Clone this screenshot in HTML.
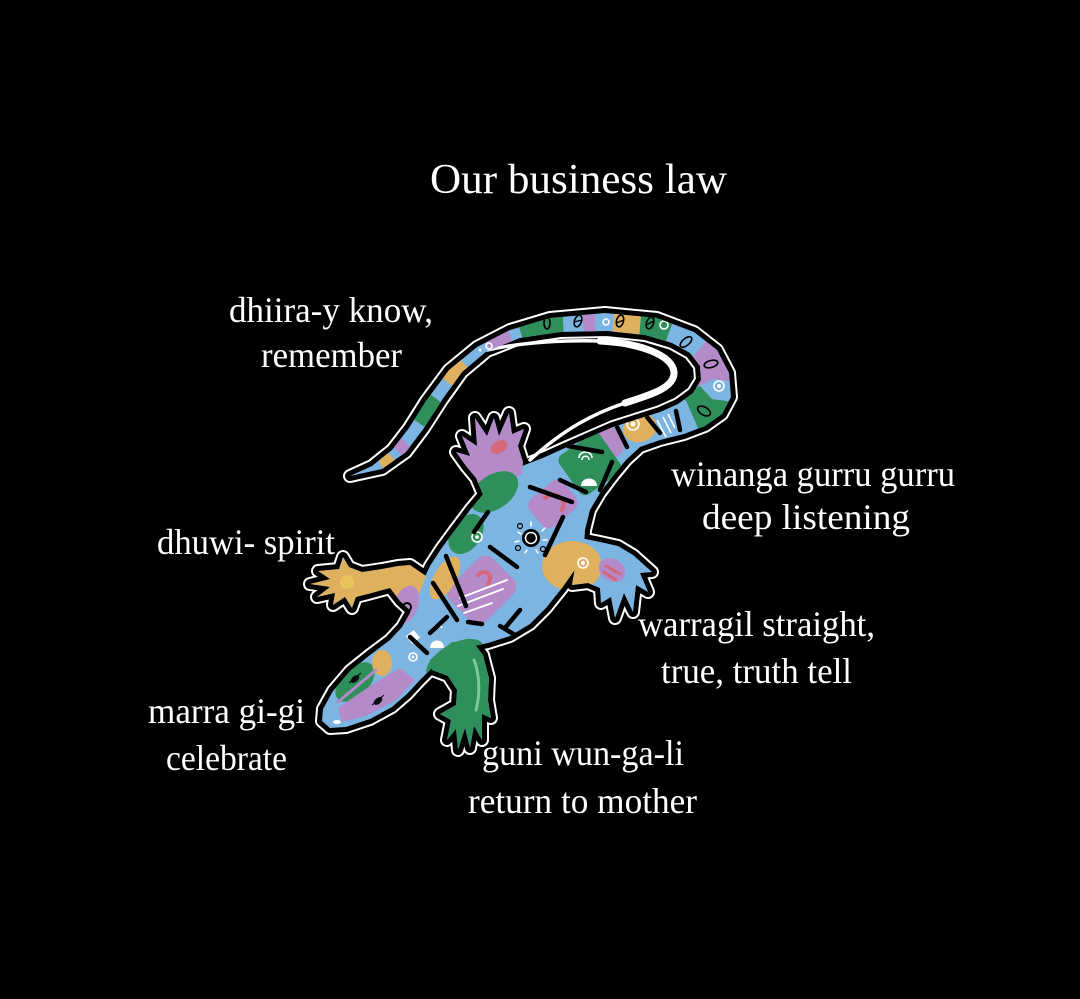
<!DOCTYPE html>
<html><head><meta charset="utf-8">
<style>
html,body{margin:0;padding:0;background:#000;}
svg{display:block;}
text{font-family:"Liberation Serif",serif;fill:#fff;}
</style></head>
<body>
<svg width="1080" height="999" viewBox="0 0 1080 999" xmlns="http://www.w3.org/2000/svg" xmlns:xlink="http://www.w3.org/1999/xlink">
<defs>
<path id="body" d="M350,476 L372,466 L392,450 L409,428 L426,401 L449,370 L477,347 L510,330 L550,318 L605,313 L657,318 L694,332 L717,350 L729,373 L731,397 L722,414 L705,426 L684,434 L660,440 L640,447 L626,460 L612,477 L600,493 L590,510 L585,530 L584,548 L576,568 L562,588 L546,608 L530,624 L510,636 L488,643 L465,648 L447,656 L433,667 L420,680 L407,694 L392,707 L370,719 L346,727 L330,728 L322,721 L323,709 L333,691 L350,671 L370,655 L390,640 L402,627 L410,613 L416,598 L422,583 L430,566 L441,549 L455,530 L470,510 L485,492 L502,478 L522,466 L545,457 L567,447 L590,437 L613,427 L638,419 L660,412 L678,404 L693,393 L701,380 L700,366 L690,353 L672,343 L645,335 L607,331 L560,332 L520,338 L487,351 L462,372 L442,400 L424,428 L406,452 L382,469 Z"/>
<path id="legLF" d="M426,576 L410,565 L398,566 L382,569 L362,572 L349,567 L343,557 L339,569 L318,571 L330,579 L310,584 L330,587 L317,597 L335,593 L333,605 L345,597 L352,608 L356,597 L368,594 L390,588 L400,601 L412,612 Z"/>
<path id="legRF" d="M430,660 L452,642 L472,641 L483,655 L489,678 L488,700 L491,718 L482,714 L482,740 L474,726 L470,748 L465,728 L458,750 L456,729 L447,740 L451,720 L440,714 L456,705 L457,690 L448,676 L432,670 Z"/>
<path id="legLH" d="M484,497 L476,478 L466,466 L456,452 L470,456 L462,436 L477,446 L475,418 L487,436 L494,418 L499,436 L509,413 L512,434 L524,429 L518,446 L523,462 L522,474 Z"/>
<path id="legRH" d="M580,538 L600,542 L618,546 L633,555 L652,572 L640,573 L648,592 L636,585 L633,612 L624,593 L615,618 L611,597 L601,603 L600,588 L588,583 L572,585 Z"/>
<g id="sil">
<use xlink:href="#body"/><use xlink:href="#legLF"/><use xlink:href="#legRF"/><use xlink:href="#legLH"/><use xlink:href="#legRH"/>
</g>
<clipPath id="clip">
<use xlink:href="#body"/><use xlink:href="#legLF"/><use xlink:href="#legRF"/><use xlink:href="#legLH"/><use xlink:href="#legRH"/>
</clipPath>
<path id="tc" d="M352,474 L388,455 L410,432 L428,406 L448,380 L470,358 L495,343 L525,333 L560,325 L606,323 L655,327 L685,338 L705,355 L716,378 L713,400 L698,414 L675,424 L650,434 L625,445 L600,460" fill="none"/>
</defs>
<rect width="1080" height="999" fill="#000"/>

<!-- outline -->
<use xlink:href="#sil" fill="#fff" stroke="#fff" stroke-width="14" stroke-linejoin="round"/>
<use xlink:href="#sil" fill="#000" stroke="#000" stroke-width="10" stroke-linejoin="round"/>

<!-- thick white inner loop line -->
<g fill="none" stroke="#fff" stroke-linecap="round">
<path d="M487,350 C520,343 560,340 600,341" stroke-width="3.5"/>
<path d="M600,341 C640,343 672,355 674,372 C675,388 650,395 625,403" stroke-width="7"/>
<path d="M625,403 C595,413 565,428 530,460" stroke-width="3.5"/>
</g>

<g clip-path="url(#clip)">
<rect x="300" y="300" width="460" height="460" fill="#7db5e2"/>
<!-- tail dash patches -->
<use xlink:href="#tc" stroke="#2f8f5b" stroke-width="40" stroke-dasharray="0 85 30 110 43 77 30 90 27 9999"/>
<use xlink:href="#tc" stroke="#b48ac8" stroke-width="40" stroke-dasharray="0 50 12 128 24 74 12 110 35 9999"/>
<use xlink:href="#tc" stroke="#dfb05e" stroke-width="40" stroke-dasharray="0 30 12 93 25 158 27 9999"/>
<!-- tail base yellow -->
<ellipse cx="640" cy="428" rx="17" ry="14" transform="rotate(-20 640 428)" fill="#dfb05e"/>
<ellipse cx="610" cy="442" rx="13" ry="16" transform="rotate(-30 610 442)" fill="#b48ac8"/>
<!-- legs fills -->
<use xlink:href="#legLF" fill="#dfb05e"/>
<use xlink:href="#legRF" fill="#2f8f5b"/>
<use xlink:href="#legLH" fill="#b48ac8"/>
<use xlink:href="#legRH" fill="#7db5e2"/>
<!-- torso patches -->
<rect x="-25" y="-24" width="50" height="48" rx="7" transform="translate(590,464) rotate(-35)" fill="#2f8f5b"/>
<ellipse cx="494" cy="492" rx="27" ry="17" transform="rotate(-35 494 492)" fill="#2f8f5b"/>
<rect x="-22" y="-18" width="44" height="36" rx="9" transform="translate(553,504) rotate(-40)" fill="#b48ac8"/>
<ellipse cx="466" cy="534" rx="22" ry="15" transform="rotate(-55 466 534)" fill="#2f8f5b"/>
<ellipse cx="572" cy="566" rx="30" ry="25" fill="#dfb05e"/>
<ellipse cx="612" cy="570" rx="14" ry="11" transform="rotate(30 612 570)" fill="#b48ac8"/>
<rect x="-30" y="-25" width="60" height="50" rx="11" transform="translate(482,590) rotate(-45)" fill="#b48ac8"/>
<ellipse cx="445" cy="578" rx="11" ry="24" transform="rotate(30 445 578)" fill="#dfb05e"/>
<ellipse cx="406" cy="605" rx="12" ry="20" transform="rotate(20 406 605)" fill="#b48ac8"/>
<ellipse cx="455" cy="660" rx="32" ry="16" transform="rotate(-30 455 660)" fill="#2f8f5b"/>
<!-- head -->
<ellipse cx="355" cy="682" rx="24" ry="14" transform="rotate(-45 355 682)" fill="#2f8f5b"/>
<ellipse cx="382" cy="663" rx="10" ry="13" fill="#dfb05e"/>
<path d="M338,708 L370,686 L400,668 L415,680 L396,700 L366,716 L342,722 Z" fill="#b48ac8"/>
<path d="M338,702 L376,670" stroke="#b48ac8" stroke-width="3" stroke-linecap="round"/>
<ellipse cx="337" cy="722" rx="4" ry="2" fill="#fff"/>
<ellipse cx="355" cy="679" rx="5" ry="3" transform="rotate(-40 355 679)" fill="#111"/>
<ellipse cx="378" cy="701" rx="5" ry="3" transform="rotate(-40 378 701)" fill="#111"/>
<path d="M349,683 L361,673 M372,705 L384,695" stroke="#000" stroke-width="1"/>
<!-- foot patches -->
<ellipse cx="499" cy="447" rx="9" ry="6" transform="rotate(-30 499 447)" fill="#d4677a"/>
<circle cx="347" cy="582" r="7" fill="#e9c45c"/>
<path d="M474,660 C480,675 480,695 476,710" stroke="#7fc79a" stroke-width="3" fill="none" stroke-linecap="round"/>
<path d="M606,566 L620,574 M604,572 L616,580" stroke="#d4677a" stroke-width="3" stroke-linecap="round"/>
<!-- pink swirl -->
<path d="M545,498 C555,490 568,498 562,510" stroke="#d4677a" stroke-width="4" fill="none" stroke-linecap="round"/>
<path d="M478,575 C486,568 494,575 488,584" stroke="#d4677a" stroke-width="4" fill="none" stroke-linecap="round"/>
<!-- white lines on purple -->
<path d="M460,598 L507,580 M458,606 L503,589 M464,613 L492,603" stroke="#fff" stroke-width="1.8" stroke-linecap="round"/>
<!-- white hatch on tail base -->
<path d="M657,420 L666,437 M663,417 L671,433 M668,414 L675,428" stroke="#fff" stroke-width="1.6"/>
<!-- white shapes in green block -->
<path d="M579,458 C579,450 592,450 592,458 M582,460 C582,455 589,455 589,460" stroke="#fff" stroke-width="1.6" fill="none"/>
<path d="M581,486 C581,476 597,476 597,486 Z" fill="#fff"/>
<!-- white shapes in blue neck -->
<rect x="-5" y="-5" width="10" height="10" transform="translate(413,637) rotate(-40)" fill="#fff"/>
<path d="M430,648 C430,638 444,638 444,648 Z" fill="#fff"/>
<path d="M432,630 C434,624 440,624 442,628" stroke="#fff" stroke-width="1.5" fill="none"/>
<!-- white circles -->
<g fill="none" stroke="#fff" stroke-width="1.6">
<circle cx="477" cy="537" r="5"/><circle cx="583" cy="563" r="5"/>
<circle cx="633" cy="424" r="6"/><circle cx="413" cy="657" r="4"/>
<circle cx="489" cy="346" r="3"/><circle cx="664" cy="325" r="4"/>
<circle cx="719" cy="386" r="5"/><circle cx="606" cy="322" r="3"/>
</g>
<g fill="#fff">
<circle cx="477" cy="537" r="1.8"/><circle cx="583" cy="563" r="2"/><circle cx="633" cy="424" r="2.5"/>
<circle cx="413" cy="657" r="1.5"/><circle cx="719" cy="386" r="2"/><circle cx="480" cy="350" r="1.5"/>
</g>
<!-- sun symbol -->
<circle cx="531" cy="538" r="9" fill="#000"/>
<circle cx="531" cy="538" r="5.5" fill="none" stroke="#fff" stroke-width="1.5"/>
<circle cx="531" cy="538" r="2.5" fill="#000"/>
<g stroke="#fff" stroke-width="1.5" stroke-linecap="round">
<path d="M531,522 L531,526 M545,528 L542,531 M547,540 L543,540 M518,532 L521,534 M515,542 L519,541 M525,553 L527,550 M538,553 L536,550"/>
</g>
<g fill="none" stroke="#000" stroke-width="1.2">
<circle cx="520" cy="526" r="2.5"/><circle cx="543" cy="549" r="2.5"/><circle cx="518" cy="548" r="2.5"/>
</g>
<circle cx="407" cy="607" r="4" fill="none" stroke="#000" stroke-width="2"/>
<!-- black thick marks -->
<g stroke="#000" stroke-width="4.5" stroke-linecap="round" fill="none">
<path d="M568,446 L602,452"/>
<path d="M612,462 L600,490"/>
<path d="M560,480 L586,492"/>
<path d="M530,487 L572,502"/>
<path d="M563,517 L545,555"/>
<path d="M490,547 L517,567"/>
<path d="M488,512 L474,532"/>
<path d="M433,583 L457,620"/>
<path d="M446,556 L466,606"/>
<path d="M468,622 L482,624"/>
<path d="M410,637 L427,653"/>
<path d="M430,633 L447,617"/>
<path d="M520,610 L505,628"/>
<path d="M617,427 L627,447"/>
<path d="M647,417 L660,433"/>
<path d="M676,411 L680,430"/>
<path d="M500,626 L515,635"/>
</g>
<!-- tail pills -->
<g fill="none" stroke="#000" stroke-width="1.6">
<ellipse cx="547" cy="323" rx="3" ry="6"/>
<ellipse cx="578" cy="321" rx="3.5" ry="6" transform="rotate(20 578 321)"/>
<ellipse cx="620" cy="321" rx="3.5" ry="6" transform="rotate(15 620 321)"/>
<ellipse cx="650" cy="323" rx="3.5" ry="6" transform="rotate(20 650 323)"/>
<ellipse cx="686" cy="342" rx="3.5" ry="7" transform="rotate(50 686 342)"/>
<ellipse cx="711" cy="364" rx="3.5" ry="7" transform="rotate(75 711 364)"/>
<ellipse cx="704" cy="411" rx="4" ry="7" transform="rotate(120 704 411)"/>
</g>
<path d="M574,322 L582,320 M616,323 L624,320 M646,325 L654,321" stroke="#000" stroke-width="1.4"/>
</g>

<!-- text -->
<text x="430" y="193" font-size="42" textLength="297" lengthAdjust="spacingAndGlyphs">Our business law</text>
<text x="229" y="322" font-size="36" textLength="204" lengthAdjust="spacingAndGlyphs">dhiira-y  know,</text>
<text x="261" y="367" font-size="36" textLength="141" lengthAdjust="spacingAndGlyphs">remember</text>
<text x="671" y="486" font-size="36" textLength="284" lengthAdjust="spacingAndGlyphs">winanga gurru gurru</text>
<text x="702" y="529" font-size="36" textLength="208" lengthAdjust="spacingAndGlyphs">deep listening</text>
<text x="157" y="554" font-size="36" textLength="178" lengthAdjust="spacingAndGlyphs">dhuwi- spirit</text>
<text x="638" y="636" font-size="36" textLength="237" lengthAdjust="spacingAndGlyphs">warragil straight,</text>
<text x="661" y="683" font-size="36" textLength="191" lengthAdjust="spacingAndGlyphs">true, truth tell</text>
<text x="148" y="723" font-size="36" textLength="157" lengthAdjust="spacingAndGlyphs">marra gi-gi</text>
<text x="166" y="770" font-size="36" textLength="121" lengthAdjust="spacingAndGlyphs">celebrate</text>
<text x="482" y="765" font-size="36" textLength="202" lengthAdjust="spacingAndGlyphs">guni wun-ga-li</text>
<text x="468" y="813" font-size="36" textLength="229" lengthAdjust="spacingAndGlyphs">return to mother</text>
</svg>
</body></html>
